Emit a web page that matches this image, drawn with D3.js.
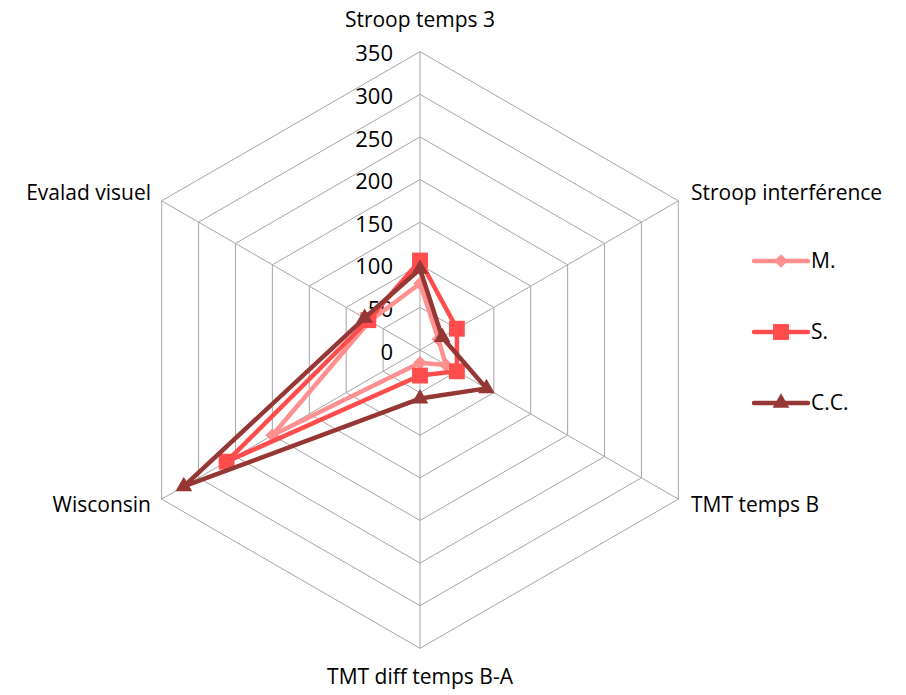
<!DOCTYPE html>
<html>
<head>
<meta charset="utf-8">
<script src="https://cdn.jsdelivr.net/npm/d3@7"></script>
<style>
  body { margin: 0; background: #fff; }
  svg { font-family: "Open Sans", "Liberation Sans", sans-serif; }
</style>
</head>
<body>
<svg width="906" height="695"></svg>
<script>
let axesLabels = ["Stroop temps 3", "Stroop interférence", "TMT temps B", "TMT diff temps B-A", "Wisconsin", "Evalad visuel"];
let seriesNames = ["M.", "S.", "C.C."];
let valuesM = [78, 25, 35, 15, 200, 68];
let valuesS = [105, 50, 50, 30, 262, 70];
let valuesCC = [95, 30, 90, 57, 320, 75];
let ticks = [0, 50, 100, 150, 200, 250, 300, 350];

let svg = d3.select("svg"),
    cx = 420, cy = 350,
    radius = 298.3;

let r = d3.scaleLinear().domain([0, 350]).range([0, radius]);
let angle = d3.scaleLinear().domain([0, axesLabels.length]).range([0, 2 * Math.PI]);

function pt(i, v) {
  let a = angle(i);
  return [cx + r(v) * Math.sin(a), cy - r(v) * Math.cos(a)];
}

var color = d3.scaleOrdinal().domain(seriesNames).range(["#ff9090", "#ff4d4d", "#953735"]);
var symbols = {"M.": d3.symbolDiamond2, "S.": d3.symbolSquare2, "C.C.": d3.symbolTriangle2};
var symSize = {"M.": 120, "S.": 320, "C.C.": 200};

let grid = svg.append("g").attr("stroke", "#a6a6a6").attr("stroke-width", 1).attr("fill", "none");

// rings
grid.selectAll("polygon")
  .data(ticks.slice(1))
  .enter().append("polygon")
    .attr("points", function(t) { return axesLabels.map(function(d, i) { return pt(i, t).join(","); }).join(" "); });

// spokes
grid.selectAll("line")
  .data(axesLabels)
  .enter().append("line")
    .attr("x1", cx).attr("y1", cy)
    .attr("x2", function(d, i) { return pt(i, 350)[0]; })
    .attr("y2", function(d, i) { return pt(i, 350)[1]; });

// tick labels
svg.append("g")
    .attr("font-size", 22)
    .attr("text-anchor", "end")
    .attr("fill", "#000")
  .selectAll("text")
  .data(ticks)
  .enter().append("text")
    .attr("x", 393)
    .attr("y", function(t) { return cy - r(t) + 2; })
    .attr("dy", "0.35em")
    .text(function(t) { return t; });

// axis labels
let labelPos = [
  {x: 420, y: 20, anchor: "middle"},
  {x: 691, y: 193, anchor: "start"},
  {x: 691, y: 505, anchor: "start"},
  {x: 420, y: 677, anchor: "middle"},
  {x: 151, y: 505, anchor: "end"},
  {x: 151, y: 193, anchor: "end"}
];
svg.append("g")
    .attr("font-size", 21)
    .attr("fill", "#000")
  .selectAll("text")
  .data(axesLabels)
  .enter().append("text")
    .attr("x", function(d, i) { return labelPos[i].x; })
    .attr("y", function(d, i) { return labelPos[i].y; })
    .attr("dy", "0.35em")
    .attr("text-anchor", function(d, i) { return labelPos[i].anchor; })
    .text(function(d) { return d; });

// series
let data = [
  {name: "M.", values: valuesM},
  {name: "S.", values: valuesS},
  {name: "C.C.", values: valuesCC}
];

let series = svg.append("g").selectAll("g")
  .data(data)
  .enter().append("g");

series.append("polygon")
    .attr("fill", "none")
    .attr("stroke", function(d) { return color(d.name); })
    .attr("stroke-width", 4.5)
    .attr("stroke-linejoin", "round")
    .attr("points", function(d) { return d.values.map(function(v, i) { return pt(i, v).join(","); }).join(" "); });

series.selectAll("path")
  .data(function(d) { return d.values.map(function(v, i) { return {name: d.name, p: pt(i, v)}; }); })
  .enter().append("path")
    .attr("transform", function(d) { return "translate(" + d.p[0] + "," + d.p[1] + ")"; })
    .attr("d", function(d) { return d3.symbol(symbols[d.name], symSize[d.name])(); })
    .attr("fill", function(d) { return color(d.name); });

// legend
var legend = svg.append("g")
    .attr("font-size", 21)
  .selectAll("g")
  .data(seriesNames)
  .enter().append("g")
    .attr("transform", function(d, i) { return "translate(0," + (261 + i * 71) + ")"; });

legend.append("line")
    .attr("x1", 754).attr("x2", 808)
    .attr("stroke", color)
    .attr("stroke-width", 4.5)
    .attr("stroke-linecap", "round");

legend.append("path")
    .attr("transform", "translate(781,0)")
    .attr("d", function(d) { return d3.symbol(symbols[d], symSize[d])(); })
    .attr("fill", color);

legend.append("text")
    .attr("x", 811)
    .attr("dy", "0.35em")
    .text(function(d) { return d; });
</script>
</body>
</html>
